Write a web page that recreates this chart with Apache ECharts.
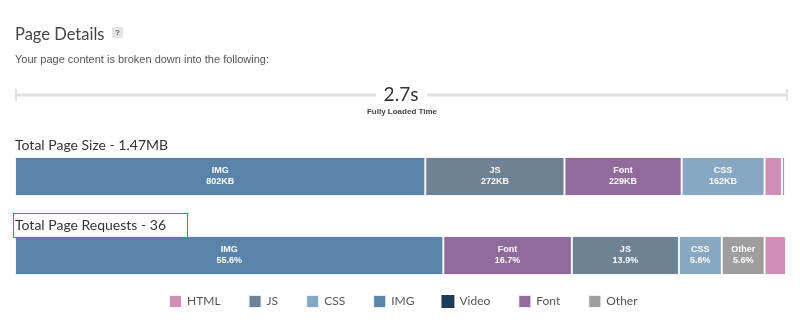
<!DOCTYPE html>
<html>
<head>
<meta charset="utf-8">
<script src="https://cdn.jsdelivr.net/npm/echarts@6/dist/echarts.min.js"></script>
<style>
html,body{margin:0;padding:0;background:#fff;}
#chart{width:800px;height:324px;}
</style>
</head>
<body>
<div id="chart"></div>
<script>
// ---- data ----
const sizeTypes = ['IMG', 'JS', 'Font', 'CSS', 'HTML', 'Other'];
const sizeKB = [802, 272, 229, 162, 34, 6];
const sizeLabels = ['802KB', '272KB', '229KB', '162KB', '', ''];
const reqTypes = ['IMG', 'Font', 'JS', 'CSS', 'Other', 'HTML'];
const reqCounts = [20, 6, 5, 2, 2, 1];
const reqLabels = ['55.6%', '16.7%', '13.9%', '5.6%', '5.6%', ''];
const legendItems = ['HTML', 'JS', 'CSS', 'IMG', 'Video', 'Font', 'Other'];
const typeColors = {
  HTML: '#d18fb7', JS: '#6f8294', CSS: '#88a7c0', IMG: '#5a83a9',
  Video: '#1d3b5b', Font: '#916a9c', Other: '#9e9e9e'
};
const loadTime = '2.7s';
const totalSize = '1.47MB';
const totalRequests = 36;

const chart = echarts.init(document.getElementById('chart'), null, {renderer: 'canvas'});
const titleFont = 'Lato, "Open Sans", sans-serif';
const bodyFont = '"Liberation Sans", Arial, sans-serif';

function sum(a){return a.reduce((s,v)=>s+v,0);}

const series = [];
function addBars(types, values, labels, gridIdx) {
  types.forEach((t, i) => {
    series.push({
      name: t,
      type: 'bar',
      stack: 'g' + gridIdx,
      xAxisIndex: gridIdx,
      yAxisIndex: gridIdx,
      barWidth: '100%',
      data: [values[i]],
      itemStyle: {color: typeColors[t], borderColor: 'rgba(255,255,255,0.85)', borderWidth: 1},
      label: {
        show: labels[i] !== '',
        position: 'inside',
        formatter: t + '\n' + labels[i],
        color: '#fff',
        fontSize: 9,
        fontWeight: 'bold',
        lineHeight: 11,
        fontFamily: bodyFont
      },
      emphasis: {disabled: true},
      silent: true
    });
  });
}
addBars(sizeTypes, sizeKB, sizeLabels, 0);
addBars(reqTypes, reqCounts, reqLabels, 1);
// Video entry (no data in this page)
series.push({name: 'Video', type: 'bar', stack: 'g0', xAxisIndex: 0, yAxisIndex: 0, data: [0],
  itemStyle: {color: typeColors.Video}, silent: true});

const option = {
  animation: false,
  grid: [
    {left: 15, right: 15, top: 157, height: 39},
    {left: 15, right: 14, top: 236, height: 39}
  ],
  xAxis: [
    {type: 'value', gridIndex: 0, min: 0, max: sum(sizeKB), show: false},
    {type: 'value', gridIndex: 1, min: 0, max: sum(reqCounts), show: false}
  ],
  yAxis: [
    {type: 'category', gridIndex: 0, data: ['size'], show: false},
    {type: 'category', gridIndex: 1, data: ['requests'], show: false}
  ],
  legend: {
    data: legendItems,
    left: 163,
    top: 289,
    icon: 'rect',
    itemWidth: 13,
    itemHeight: 13,
    itemGap: 27,
    selectedMode: false,
    textStyle: {color: '#555', fontSize: 12, fontFamily: titleFont}
  },
  series: series,
  graphic: [
    {type: 'text', x: 15, y: 35, style: {text: 'Page Details', fill: '#444', font: '16.5px ' + titleFont, verticalAlign: 'middle'}},
    {type: 'rect', shape: {x: 112, y: 27, width: 11, height: 11}, style: {fill: '#e4e4e4'}},
    {type: 'text', x: 117.5, y: 32.5, style: {text: '?', fill: '#666', font: 'bold 8px ' + bodyFont, align: 'center', verticalAlign: 'middle'}},
    {type: 'text', x: 15, y: 60, style: {text: 'Your page content is broken down into the following:', fill: '#555', font: '11px ' + bodyFont, verticalAlign: 'middle'}},
    // timeline
    {type: 'line', shape: {x1: 15, y1: 95, x2: 376, y2: 95}, style: {stroke: '#e0e0e0', lineWidth: 3}},
    {type: 'line', shape: {x1: 427, y1: 95, x2: 787, y2: 95}, style: {stroke: '#e0e0e0', lineWidth: 3}},
    {type: 'line', shape: {x1: 16, y1: 89, x2: 16, y2: 101}, style: {stroke: '#e0e0e0', lineWidth: 2}},
    {type: 'line', shape: {x1: 787, y1: 89, x2: 787, y2: 101}, style: {stroke: '#e0e0e0', lineWidth: 2}},
    {type: 'text', x: 401, y: 95, style: {text: loadTime, fill: '#333', font: '19px ' + titleFont, align: 'center', verticalAlign: 'middle'}},
    {type: 'text', x: 402, y: 112, style: {text: 'Fully Loaded Time', fill: '#444', font: 'bold 8px ' + bodyFont, align: 'center', verticalAlign: 'middle'}},
    // section titles
    {type: 'text', x: 15, y: 145, style: {text: 'Total Page Size - ' + totalSize, fill: '#333', font: '14px ' + titleFont, verticalAlign: 'middle'}},
    {type: 'text', x: 15, y: 225, style: {text: 'Total Page Requests - ' + totalRequests, fill: '#333', font: '14px ' + titleFont, verticalAlign: 'middle'}},
    // red highlight box, drawn as a filled frame
    {type: 'rect', z: 10, shape: {x: 13, y: 213, width: 175, height: 1}, style: {fill: '#e8474f'}},
    {type: 'rect', z: 10, shape: {x: 13, y: 237, width: 175, height: 1}, style: {fill: '#e8474f'}},
    {type: 'rect', z: 10, shape: {x: 13, y: 213, width: 1, height: 25}, style: {fill: '#e8474f'}},
    {type: 'rect', z: 10, shape: {x: 187, y: 213, width: 1, height: 25}, style: {fill: '#e8474f'}}
  ]
};
chart.setOption(option);
</script>
</body>
</html>
